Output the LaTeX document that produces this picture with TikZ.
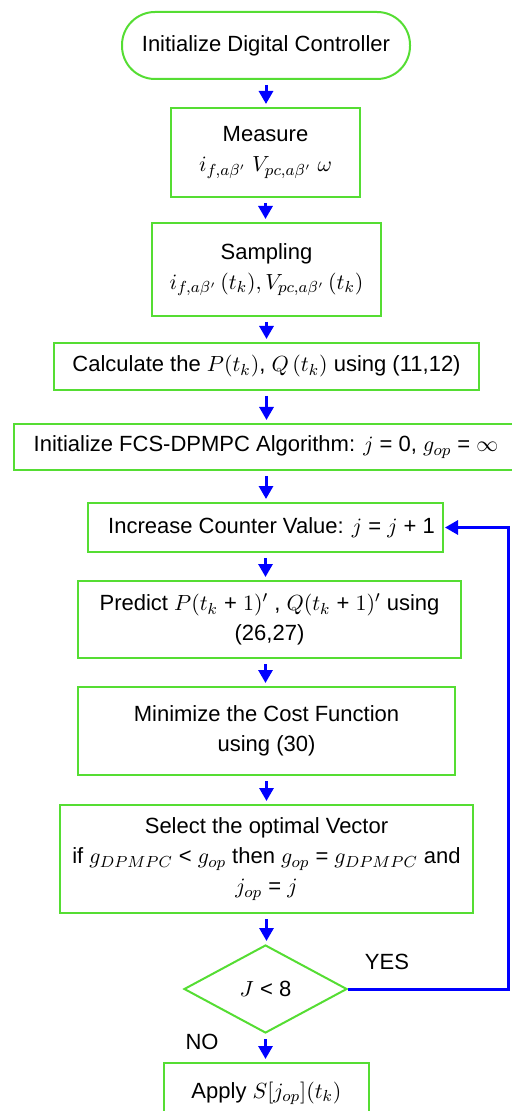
\documentclass[tikz,border=0pt]{standalone}
\usepackage{fontspec}
\setmainfont{Liberation Sans}
\usetikzlibrary{arrows.meta,shapes.geometric,calc}
\definecolor{boxgreen}{RGB}{85,221,51}
\tikzset{>={Triangle[width=7pt,length=6.5pt]}}
\tikzset{
	stepbox/.style={draw=boxgreen, line width=1pt, inner sep=0pt, align=center, font=\fontsize{11}{15}\selectfont},
	startbox/.style={stepbox, rounded corners=16.5pt},
	decision/.style={stepbox, diamond},
	flow/.style={->, blue, line width=1.5pt, shorten <=2.5pt, shorten >=1.5pt},
	loopline/.style={->, blue, line width=1.5pt, shorten >=0.5pt},
	tag/.style={font=\fontsize{11}{13}\selectfont, inner sep=0pt}
}

\begin{document}
\begin{tikzpicture}[x=0.5pt, y=-0.5pt]
	\useasboundingbox (0,0) rectangle (511,1111);
	
	% Blocks of the controller loop, top to bottom
	\node[startbox, minimum width=144pt, minimum height=33.5pt] (start) at (266,45.5) {Initialize Digital Controller}; %start
	\node[stepbox, minimum width=94.5pt, minimum height=44.5pt] (measure) at (265.5,152.5) {Measure\\ $i_{f,a\beta'}\ V_{pc,a\beta'}\ \omega$}; %measurement
	\node[stepbox, minimum width=114.5pt, minimum height=46.5pt] (sampling) at (266.5,269.5) {Sampling\\ $i_{f,a\beta'}\,(t_k), V_{pc,a\beta'}\,(t_k)$}; %sampling
	\node[stepbox, minimum width=212.5pt, minimum height=23.5pt] (calc) at (266.5,366.5) {Calculate the $P(t_k)$, $Q\,(t_k)$ using (11,12)}; %powers
	\node[stepbox, minimum width=252pt, minimum height=23pt] (init) at (266,447) {Initialize FCS-DPMPC Algorithm: $j$ = 0, $g_{op}$ = $\infty$}; %init
	\node[stepbox, minimum width=177.5pt, minimum height=24.5pt] (incr) at (265.5,527.5) {\hspace*{6pt}Increase Counter Value: $j$ = $j$ + 1}; %counter
	\node[stepbox, minimum width=191.5pt, minimum height=38.5pt] (pred) at (269.5,619.5) {Predict $P(t_k$ + $1)'$ , $Q(t_k$ + $1)'$ using\\ (26,27)}; %prediction
	\node[stepbox, minimum width=188.5pt, minimum height=44pt] (mini) at (266.5,731) {Minimize the Cost Function\\ using (30)}; %cost
	\node[stepbox, minimum width=206.5pt, minimum height=54pt] (select) at (266.5,859) {Select the optimal Vector\\ if $g_{DPMPC}$ < $g_{op}$ then $g_{op}$ = $g_{DPMPC}$ and\\ $j_{op}$ = $j$}; %selection
	\node[decision, minimum width=81.5pt, minimum height=44pt] (check) at (265.5,989) {$J$ < 8}; %loop test
	\node[stepbox, minimum width=102.5pt, minimum height=30pt] (apply) at (266.5,1093) {Apply $S[j_{op}](t_k)$}; %output
	\coordinate (back) at (508,989); %return corner
	
	% Arrows
	\draw[flow] (start.south) -- (start.south |- measure.north);
	\draw[flow] (measure.south) -- (measure.south |- sampling.north);
	\draw[flow] (sampling.south) -- (sampling.south |- calc.north);
	\draw[flow] (calc.south) -- (calc.south |- init.north);
	\draw[flow] (init.south) -- (init.south |- incr.north);
	\draw[flow] (incr.south) -- (incr.south |- pred.north);
	\draw[flow] (incr.south |- pred.south) -- (incr.south |- mini.north);
	\draw[flow] (mini.south) -- (mini.south |- select.north);
	\draw[flow] (select.south) -- (select.south |- check.north);
	\draw[flow] (check.south) -- (check.south |- apply.north);
	\draw[loopline] (check.east) -- (back) |- (incr.east);
	
	% Branch labels
	\node[tag] (yes) at (387,962) {YES};
	\node[tag] (no) at (202,1042) {NO};
\end{tikzpicture}
\end{document}
